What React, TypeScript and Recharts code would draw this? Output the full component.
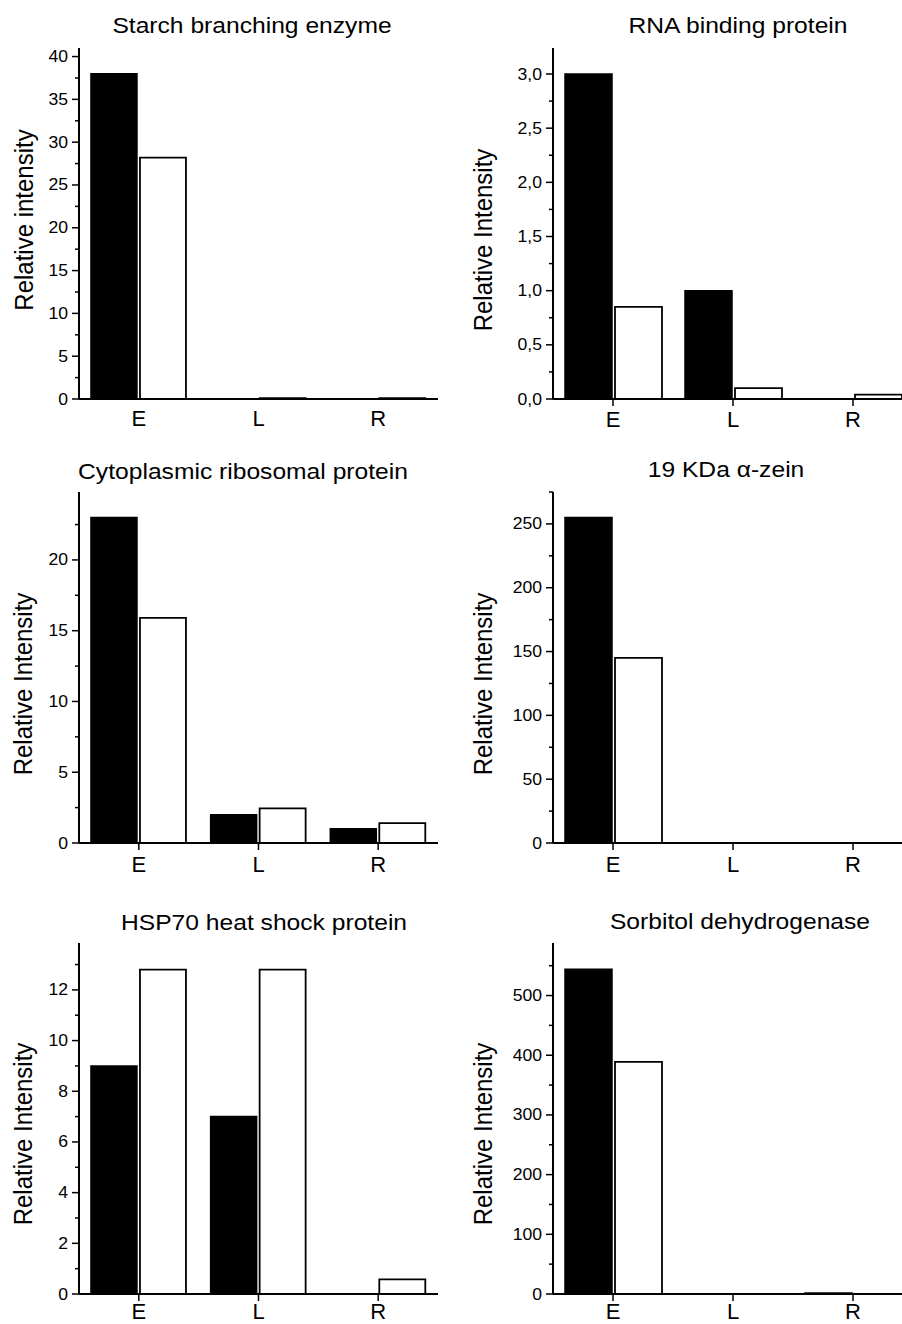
import React from 'react';
import { BarChart, Bar, XAxis, YAxis } from 'recharts';

const categories = ['E', 'L', 'R'];

// black bars = dark, open bars = light
const starchDark = [38, 0, 0];
const starchLight = [28.2, 0.1, 0.1];
const rnaDark = [3.0, 1.0, 0];
const rnaLight = [0.85, 0.1, 0.04];
const riboDark = [23, 2, 1];
const riboLight = [15.9, 2.45, 1.4];
const zeinDark = [255, 0, 0];
const zeinLight = [145, 0, 0];
const hspDark = [9, 7, 0];
const hspLight = [12.8, 12.8, 0.58];
const sorbDark = [544, 0, 1.5];
const sorbLight = [389, 0, 0];

const starchTicks = [0, 5, 10, 15, 20, 25, 30, 35, 40];
const rnaTicks = [0, 0.5, 1, 1.5, 2, 2.5, 3];
const riboTicks = [0, 5, 10, 15, 20];
const zeinTicks = [0, 50, 100, 150, 200, 250];
const hspTicks = [0, 2, 4, 6, 8, 10, 12];
const sorbTicks = [0, 100, 200, 300, 400, 500];

const FONT = '"Liberation Sans", Arial, sans-serif';
const PLOT_H = 351;
const TOP_PAD = 10;

const intFmt = (v: number) => String(v);
const commaFmt = (v: number) => v.toFixed(1).replace('.', ',');

function withMinors(majors: number[], max: number) {
  const out = [...majors];
  const step = majors[1] - majors[0];
  for (let i = 0; i < majors.length; i++) {
    const m = majors[i] + step / 2;
    if (m <= max + 1e-9) out.push(m);
  }
  return out.sort((a, b) => a - b);
}

function YTick(props: any) {
  const { x, y, payload, majors, fmt } = props;
  const major = majors.includes(payload.value);
  return (
    <g>
      <line x1={x - (major ? 7 : 4)} x2={x} y1={y} y2={y} stroke="#000" strokeWidth={1.5} />
      {major && (
        <text
          transform={`translate(${x - 11},${y + 5.5}) scale(1.1,1)`}
          textAnchor="end"
          fontSize={16}
          fontFamily={FONT}
          fill="#000"
        >
          {fmt(payload.value)}
        </text>
      )}
    </g>
  );
}

function XTick(props: any) {
  const { x, y, payload, showLine, labelDy } = props;
  return (
    <g>
      {showLine && <line x1={x} x2={x} y1={y} y2={y + 7} stroke="#000" strokeWidth={1.5} />}
      <text x={x} y={y + labelDy} textAnchor="middle" fontSize={22} fontFamily={FONT} fill="#000">
        {payload.value}
      </text>
    </g>
  );
}

const panels = [
  { title: 'Starch branching enzyme', yLabel: 'Relative intensity', dark: starchDark, light: starchLight, ticks: starchTicks, max: 41, fmt: intFmt, col: 0, plotTop: 48, xLines: false, labelDy: 27, titleX: 252, titleY: 33, labX: 33, labY: 220 },
  { title: 'RNA binding protein', yLabel: 'Relative Intensity', dark: rnaDark, light: rnaLight, ticks: rnaTicks, max: 3.24, fmt: commaFmt, col: 1, plotTop: 48, xLines: true, labelDy: 28, titleX: 738, titleY: 33, labX: 492, labY: 240 },
  { title: 'Cytoplasmic ribosomal protein', yLabel: 'Relative Intensity', dark: riboDark, light: riboLight, ticks: riboTicks, max: 24.8, fmt: intFmt, col: 0, plotTop: 492, xLines: true, labelDy: 29, titleX: 243, titleY: 479, labX: 32, labY: 684 },
  { title: '19 KDa \u03b1-zein', yLabel: 'Relative Intensity', dark: zeinDark, light: zeinLight, ticks: zeinTicks, max: 275, fmt: intFmt, col: 1, plotTop: 492, xLines: true, labelDy: 29, titleX: 726, titleY: 477, labX: 492, labY: 684 },
  { title: 'HSP70 heat shock protein', yLabel: 'Relative Intensity', dark: hspDark, light: hspLight, ticks: hspTicks, max: 13.85, fmt: intFmt, col: 0, plotTop: 943, xLines: true, labelDy: 24.5, titleX: 264, titleY: 930, labX: 32, labY: 1134 },
  { title: 'Sorbitol dehydrogenase', yLabel: 'Relative Intensity', dark: sorbDark, light: sorbLight, ticks: sorbTicks, max: 588, fmt: intFmt, col: 1, plotTop: 943, xLines: true, labelDy: 24.5, titleX: 740, titleY: 929, labX: 492, labY: 1134 },
];

function Panel({ p }: { p: (typeof panels)[number] }) {
  const data = categories.map((c, i) => ({ cat: c, dark: p.dark[i], light: p.light[i] }));
  const allTicks = withMinors(p.ticks, p.max);
  const left = p.col === 0 ? 0 : 474;
  const rightMargin = p.col === 0 ? 12 : 11;
  return (
    <div style={{ position: 'absolute', left, top: p.plotTop - TOP_PAD }}>
      <BarChart
        width={450}
        height={TOP_PAD + PLOT_H + 40}
        data={data}
        margin={{ top: TOP_PAD, right: rightMargin, bottom: 0, left: 0 }}
        barCategoryGap="10%"
        barGap={3}
      >
        <XAxis
          dataKey="cat"
          axisLine={{ stroke: '#000', strokeWidth: 2 }}
          tickLine={false}
          tickSize={0}
          tickMargin={0}
          height={40}
          interval={0}
          tick={<XTick showLine={p.xLines} labelDy={p.labelDy} />}
        />
        <XAxis
          xAxisId="top"
          dataKey="cat"
          orientation="top"
          height={0}
          tick={false}
          tickLine={false}
          axisLine={{ stroke: '#000', strokeWidth: 2 }}
        />
        <YAxis
          type="number"
          domain={[0, p.max]}
          ticks={allTicks}
          interval={0}
          width={79}
          axisLine={{ stroke: '#000', strokeWidth: 2 }}
          tickLine={false}
          tickSize={0}
          tickMargin={0}
          tick={<YTick majors={p.ticks} fmt={p.fmt} />}
        />
        <YAxis
          yAxisId="right"
          orientation="right"
          width={0}
          domain={[0, 1]}
          tick={false}
          tickLine={false}
          axisLine={{ stroke: '#000', strokeWidth: 2 }}
        />
        <Bar dataKey="dark" fill="#000" stroke="#000" strokeWidth={1.5} isAnimationActive={false} />
        <Bar dataKey="light" fill="#fff" stroke="#000" strokeWidth={1.8} isAnimationActive={false} />
      </BarChart>
    </div>
  );
}

export default function App() {
  return (
    <div
      style={{
        position: 'absolute',
        top: 0,
        left: 0,
        width: 902,
        height: 1324,
        overflow: 'hidden',
        background: '#fff',
        fontFamily: FONT,
      }}
    >
      {panels.map((p) => (
        <Panel key={p.title} p={p} />
      ))}
      <svg width={902} height={1324} style={{ position: 'absolute', left: 0, top: 0, pointerEvents: 'none' }}>
        {panels.map((p) => (
          <g key={p.title}>
            <text
              transform={`translate(${p.titleX},${p.titleY}) scale(1.12,1)`}
              textAnchor="middle"
              fontSize={22}
              fontFamily={FONT}
              fill="#000"
            >
              {p.title}
            </text>
            <text
              transform={`translate(${p.labX},${p.labY}) scale(1.1,1) rotate(-90)`}
              textAnchor="middle"
              fontSize={24}
              fontFamily={FONT}
              fill="#000"
            >
              {p.yLabel}
            </text>
          </g>
        ))}
      </svg>
    </div>
  );
}
